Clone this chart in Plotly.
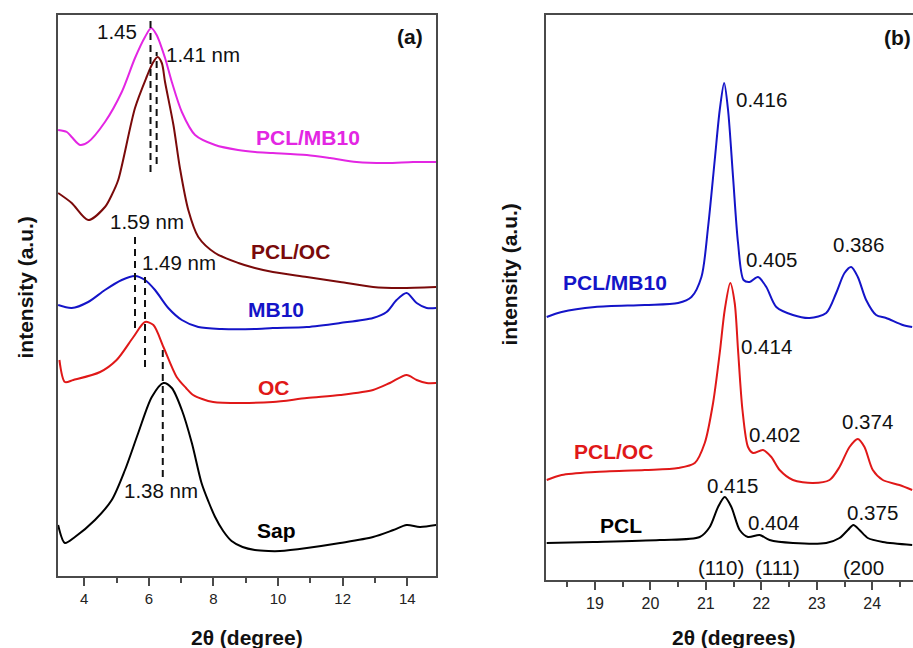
import plotly.graph_objects as go

# ---------------- Panel (a): basal reflection of the clays ----------------
sap_x = [3.19, 3.40, 3.71, 4.33, 4.85, 5.26, 5.67, 6.09, 6.45, 6.71, 7.02, 7.33, 7.63,
         7.85, 8.05, 8.30, 8.56, 8.90, 9.28, 9.70, 10.06, 10.89, 11.92, 12.94, 13.57,
         13.98, 14.39, 14.91]
sap_y = [51, 33, 39, 56, 76, 106, 143, 179, 193, 188, 166, 133, 93,
         74, 59, 45, 35, 29, 26, 25, 25, 28, 33, 39, 46,
         51, 49, 51]

oc_x = [3.23, 3.40, 3.66, 4.49, 5.00, 5.52, 5.88, 6.14, 6.45, 6.86, 7.15, 7.37, 7.65,
        7.99, 8.82, 9.84, 10.89, 11.92, 12.94, 13.46, 13.98, 14.29, 14.60, 14.91]
oc_y = [216, 194, 196, 204, 216, 239, 254, 251, 229, 199, 188, 181, 177,
        174, 173, 174, 178, 181, 186, 193, 201, 196, 193, 193]

mb10_x = [3.19, 3.61, 4.12, 4.64, 5.16, 5.57, 5.88, 6.19, 6.60, 7.02, 7.53, 8.25,
          9.28, 9.84, 10.89, 11.92, 12.94, 13.36, 13.67, 13.98, 14.29, 14.60, 14.91]
mb10_y = [271, 268, 274, 286, 296, 300, 296, 286, 268, 256, 249, 247,
          247, 248, 249, 253, 258, 264, 276, 283, 273, 268, 268]

pcloc_x = [3.19, 3.61, 4.12, 4.64, 4.85, 5.05, 5.57, 5.93, 6.12, 6.27, 6.40, 6.50,
           6.76, 6.96, 7.22, 7.53, 8.05, 8.77, 9.28, 9.84, 10.89, 11.92, 12.94, 13.77, 14.91]
pcloc_y = [383, 373, 356, 369, 381, 396, 468, 499, 513, 519, 513, 494,
           451, 408, 366, 339, 323, 313, 308, 304, 299, 294, 289, 288, 289]

pclmb_x = [3.19, 3.46, 3.61, 3.87, 4.12, 4.64, 5.16, 5.57, 5.88, 6.07, 6.24, 6.50,
           6.71, 7.02, 7.43, 8.05, 8.76, 9.29, 9.84, 10.89, 11.61, 12.43, 13.36, 14.18, 14.91]
pclmb_y = [446, 444, 439, 431, 434, 454, 484, 518, 539, 548, 541, 518,
           494, 464, 441, 431, 426, 424, 423, 421, 418, 414, 413, 414, 414]

# d-spacing marker lines of panel (a): position, lower and upper intensity
ref_a_x = [6.05, 6.24, 5.57, 5.88, 6.43]
ref_a_lo = [404, 412, 248, 209, 99]
ref_a_hi = [558, 524, 339, 299, 231]

# labels of panel (a)
lab_a_text = ["1.45", "1.41 nm", "1.59 nm", "1.49 nm", "1.38 nm"]
lab_a_x = [5.01, 7.68, 5.93, 6.92, 6.36]
lab_a_y = [544, 521, 355, 313.5, 85.5]

name_a_text = ["PCL/MB10", "PCL/OC", "MB10", "OC", "Sap"]
name_a_x = [10.94, 10.38, 9.95, 9.87, 9.95]
name_a_y = [438.5, 325, 266.5, 188.5, 46]

# ---------------- Panel (b): PCL crystalline reflections ----------------
b_mb_x = [18.13, 18.40, 19.00, 19.90, 20.50, 20.74, 20.92, 21.04, 21.16, 21.25, 21.33,
          21.40, 21.49, 21.58, 21.68, 21.79, 21.94, 22.09, 22.27, 22.57, 22.87, 23.17,
          23.35, 23.50, 23.62, 23.74, 23.89, 24.07, 24.25, 24.55, 24.72]
b_mb_y = [263, 268, 273, 275, 277, 283, 303, 353, 420, 470, 497,
          470, 403, 337, 300, 298, 303, 293, 273, 265, 262, 267,
          287, 307, 313, 303, 280, 265, 262, 255, 253]

b_oc_x = [18.13, 18.40, 19.00, 19.90, 20.50, 20.80, 20.98, 21.13, 21.25, 21.34, 21.44,
          21.52, 21.58, 21.66, 21.76, 21.85, 22.03, 22.18, 22.33, 22.57, 22.93, 23.23,
          23.41, 23.59, 23.74, 23.86, 24.01, 24.19, 24.49, 24.72]
b_oc_y = [100, 105, 108, 110, 112, 117, 137, 177, 227, 270, 297,
          277, 230, 170, 133, 127, 130, 123, 110, 100, 97, 100,
          113, 133, 141, 133, 110, 100, 95, 90]

b_pcl_x = [18.13, 18.97, 20.17, 20.89, 21.07, 21.22, 21.34, 21.46, 21.61, 21.76, 21.97,
           22.15, 22.57, 23.17, 23.41, 23.56, 23.66, 23.77, 23.92, 24.19, 24.72]
b_pcl_y = [37, 38, 40, 43, 53, 73, 83, 73, 50, 43, 45,
           40, 37, 37, 42, 50, 55, 50, 42, 38, 35]

lab_b_text = ["0.416", "0.405", "0.386", "0.414", "0.402", "0.374", "0.415", "0.404", "0.375",
              "(110)", "(111)", "(200"]
lab_b_x = [22.00, 22.19, 23.75, 22.09, 22.24, 23.91, 21.48, 22.22, 24.00, 21.27, 22.29, 23.84]
lab_b_y = [480.5, 320.5, 335.5, 233.5, 146, 158.5, 95, 57.5, 67.5, 12.5, 12.5, 12.5]

name_b_text = ["PCL/MB10", "PCL/OC", "PCL"]
name_b_x = [19.36, 19.34, 19.47]
name_b_y = [297.5, 128.5, 55]

# colours
C_MAG = "#e326e3"
C_MAROON = "#7a0a0a"
C_BLUE = "#1414c8"
C_RED = "#e01818"
C_BLACK = "#000000"

W, H = 913, 648
FONT = "Arial, 'Liberation Sans', sans-serif"

fig = go.Figure()

def curve(x, y, color, xa, ya):
    fig.add_trace(go.Scatter(x=x, y=y, mode="lines", xaxis=xa, yaxis=ya,
                             line=dict(color=color, width=2, shape="spline", smoothing=0.8),
                             showlegend=False, hoverinfo="skip"))

curve(sap_x, sap_y, C_BLACK, "x", "y")
curve(oc_x, oc_y, C_RED, "x", "y")
curve(mb10_x, mb10_y, C_BLUE, "x", "y")
curve(pcloc_x, pcloc_y, C_MAROON, "x", "y")
curve(pclmb_x, pclmb_y, C_MAG, "x", "y")

for xv, lo, hi in zip(ref_a_x, ref_a_lo, ref_a_hi):
    fig.add_trace(go.Scatter(x=[xv, xv], y=[lo, hi], mode="lines", xaxis="x", yaxis="y",
                             line=dict(color="#111111", width=2, dash="7px,5px"),
                             showlegend=False, hoverinfo="skip"))

curve(b_pcl_x, b_pcl_y, C_BLACK, "x2", "y2")
curve(b_oc_x, b_oc_y, C_RED, "x2", "y2")
curve(b_mb_x, b_mb_y, C_BLUE, "x2", "y2")

ann = []
for t, x, y in zip(lab_a_text, lab_a_x, lab_a_y):
    ann.append(dict(text=t, x=x, y=y, xref="x", yref="y", showarrow=False,
                    font=dict(family=FONT, size=20.5, color="#111111")))
for t, x, y, c in zip(name_a_text, name_a_x, name_a_y, [C_MAG, C_MAROON, C_BLUE, C_RED, C_BLACK]):
    ann.append(dict(text="<b>%s</b>" % t, x=x, y=y, xref="x", yref="y", showarrow=False,
                    font=dict(family=FONT, size=21, color=c)))
ann.append(dict(text="<b>(a)</b>", x=14.07, y=539.5, xref="x", yref="y", showarrow=False,
                font=dict(family=FONT, size=21, color="#111111")))

for t, x, y in zip(lab_b_text, lab_b_x, lab_b_y):
    ann.append(dict(text=t, x=x, y=y, xref="x2", yref="y2", showarrow=False,
                    font=dict(family=FONT, size=20.5, color="#111111")))
for t, x, y, c in zip(name_b_text, name_b_x, name_b_y, [C_BLUE, C_RED, C_BLACK]):
    ann.append(dict(text="<b>%s</b>" % t, x=x, y=y, xref="x2", yref="y2", showarrow=False,
                    font=dict(family=FONT, size=21, color=c)))
ann.append(dict(text="<b>(b)</b>", x=24.45, y=542.5, xref="x2", yref="y2", showarrow=False,
                font=dict(family=FONT, size=21, color="#111111")))

# axis titles
def paper(px, py):
    return px / W, 1 - py / H

for t, (px, py), ang in [("<b>2θ (degree)</b>", (246.5, 637), 0),
                         ("<b>2θ (degrees)</b>", (733.5, 637), 0),
                         ("<b>intensity (a.u.)</b>", (25, 287.5), -90),
                         ("<b>intensity (a.u.)</b>", (509, 274.5), -90)]:
    xp, yp = paper(px, py)
    ann.append(dict(text=t, x=xp, y=yp, xref="paper", yref="paper", showarrow=False,
                    textangle=ang, xanchor="center", yanchor="middle",
                    font=dict(family=FONT, size=21, color="#111111")))

AX = "#4a4a4a"
common_x = dict(showgrid=False, zeroline=False, showline=True, linecolor=AX, linewidth=1.5,
                ticks="outside", ticklen=8, tickwidth=1.5, tickcolor=AX,
                tickfont=dict(family=FONT, size=15, color="#222222"))
common_y = dict(showgrid=False, zeroline=False, showline=True, linecolor=AX, linewidth=1.5,
                ticks="", showticklabels=False)

fig.update_layout(
    width=W, height=H,
    margin=dict(l=0, r=0, t=0, b=0),
    paper_bgcolor="white", plot_bgcolor="white",
    showlegend=False,
    annotations=ann,
    xaxis=dict(common_x, domain=[58 / W, 436 / W], range=[3.186, 14.889],
               tick0=0, dtick=2, mirror=True, anchor="y",
               minor=dict(ticks="outside", ticklen=5, tickwidth=1.5, tickcolor=AX, dtick=1, tick0=0)),
    yaxis=dict(common_y, domain=[1 - 576 / H, 1 - 15 / H], range=[0, 561], mirror=True, anchor="x"),
    xaxis2=dict(common_x, domain=[545.7 / W, 1.0], range=[18.112, 24.735],
                tick0=0, dtick=1, mirror=True, anchor="y2",
                tickfont=dict(family=FONT, size=16, color="#222222"),
                minor=dict(ticks="outside", ticklen=5, tickwidth=1.5, tickcolor=AX, dtick=0.5, tick0=0)),
    yaxis2=dict(common_y, domain=[1 - 580 / H, 1 - 15 / H], range=[0, 565], mirror=False, anchor="x2"),
)

fig.write_html("out.html")
